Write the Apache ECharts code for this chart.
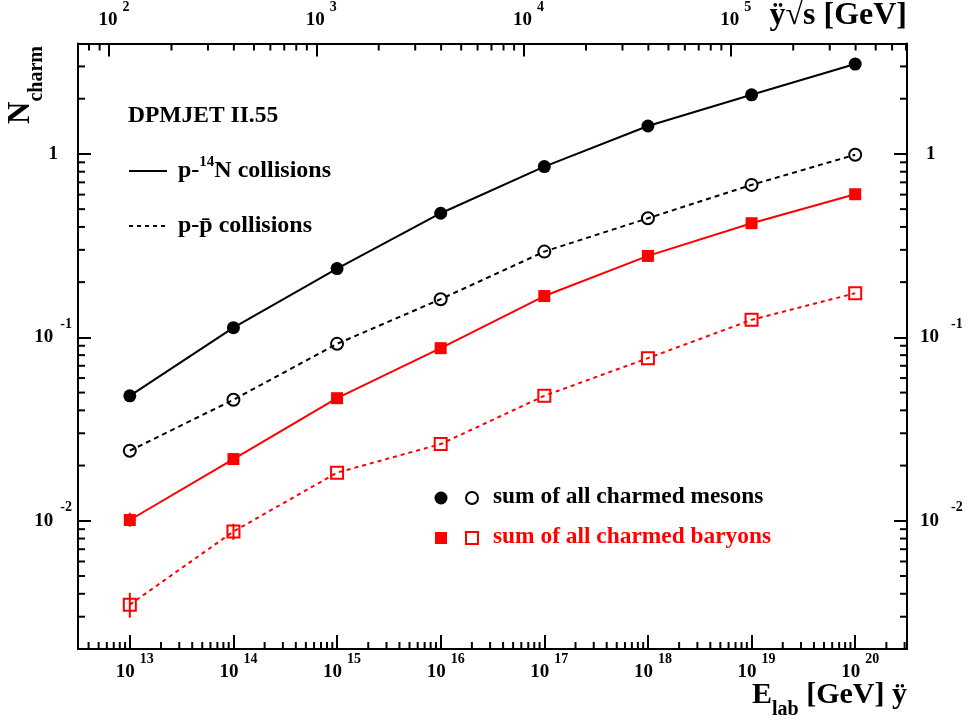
<!DOCTYPE html>
<html><head><meta charset="utf-8">
<script src="https://cdn.jsdelivr.net/npm/echarts@6/dist/echarts.min.js"></script>
<style>html,body{margin:0;padding:0;background:#fff}#c{width:969px;height:724px}</style>
</head><body><div id="c"></div>
<script>
// ---- data ----
const energies = [1e13, 1e14, 1e15, 1e16, 1e17, 1e18, 1e19, 1e20];           // E_lab
const mesonsPN  = [0.048, 0.113, 0.237, 0.475, 0.853, 1.42, 2.10, 3.09];    // p-14N, mesons (filled circles)
const mesonsPP  = [0.0241, 0.0457, 0.0922, 0.1615, 0.2935, 0.446, 0.678, 0.99]; // p-pbar, mesons (open circles)
const baryonsPN = [0.0101, 0.0217, 0.0466, 0.0873, 0.168, 0.278, 0.419, 0.603]; // p-14N, baryons (filled squares)
const baryonsPP = [0.00349, 0.00874, 0.0183, 0.0262, 0.048, 0.077, 0.1246, 0.174]; // p-pbar, baryons (open squares)
const baryonsPNErrLow  = [0.00928, null, null, null, null, null, null, null];
const baryonsPNErrHigh = [0.01106, null, null, null, null, null, null, null];
const baryonsPPErrLow  = [0.00296, 0.00787, null, null, null, null, null, null];
const baryonsPPErrHigh = [0.00405, 0.00963, null, null, null, null, null, null];

const xMin = Math.pow(10, 12.5), xMax = Math.pow(10, 20.5);
const yMin = 0.002, yMax = 4;
const sqrtsShift = 4.40; // log10(sqrt s) = 0.5*log10(E_lab) - shift
const topMin = Math.pow(10, 0.5 * Math.log10(xMin) - sqrtsShift);
const topMax = Math.pow(10, 0.5 * Math.log10(xMax) - sqrtsShift);

const FF = '"Liberation Serif", "Times New Roman", serif';
const RED = '#ff0000';

function isDecade(v){ const e = Math.log10(v); return Math.abs(e - Math.round(e)) < 1e-6; }
function expLabel(v){ if (!isDecade(v)) return ''; const e = Math.round(Math.log10(v)); return '{b|10}{s|' + e + '}'; }
function yLabel(v){ if (!isDecade(v)) return ''; const e = Math.round(Math.log10(v)); if (e === 0) return '{one|1}'; return '{b|10}{s|' + e + '}'; }

function richSet(bPadL, sPadL, onePad){
  return {
    b: {fontFamily: FF, fontWeight: 'bold', fontSize: 19, lineHeight: 19, color: '#000', padding: [10, 0, 10, bPadL]},
    s: {fontFamily: FF, fontWeight: 'bold', fontSize: 14, lineHeight: 14, color: '#000', padding: [0, 0, 26, sPadL]},
    one: {fontFamily: FF, fontWeight: 'bold', fontSize: 19, lineHeight: 19, color: '#000', padding: onePad}
  };
}

const axisLine = {show: true, onZero: false, lineStyle: {color: '#000', width: 2}};

const chart = echarts.init(document.getElementById('c'), null, {renderer: 'canvas'});

function pts(arr){ return energies.map((e, i) => [e, arr[i]]); }
function errs(lo, hi){ const out = []; energies.forEach((e, i) => { if (lo[i] != null) out.push([e, lo[i], hi[i]]); }); return out; }

const option = {
  animation: false,
  backgroundColor: '#fff',
  grid: {left: 78, right: 62, top: 43, bottom: 75},
  xAxis: [
    {type: 'log', logBase: 10, min: xMin, max: xMax, splitNumber: 8, position: 'bottom',
     axisLine: axisLine, splitLine: {show: false},
     axisTick: {show: true, inside: true, length: 14, lineStyle: {color: '#000', width: 2}},
     axisLabel: {formatter: expLabel, margin: 14, rich: richSet(10, 5, [0,0,0,0]), showMinLabel: false, showMaxLabel: false}},
    {type: 'log', logBase: 10, min: topMin, max: topMax, splitNumber: 4, position: 'top',
     axisLine: axisLine, splitLine: {show: false},
     axisTick: {show: true, inside: true, length: 13, lineStyle: {color: '#000', width: 2}},
     axisLabel: {formatter: expLabel, margin: 14, rich: richSet(10, 5, [0,0,0,0]), showMinLabel: false, showMaxLabel: false}}
  ],
  yAxis: [
    {type: 'log', logBase: 10, min: yMin, max: yMax, splitNumber: 3, position: 'left',
     axisLine: axisLine, splitLine: {show: false},
     axisTick: {show: true, inside: true, length: 13, lineStyle: {color: '#000', width: 2}},
     axisLabel: {formatter: yLabel, margin: 6, rich: richSet(0, 7, [0, 14, 0, 0]), showMinLabel: false, showMaxLabel: false}},
    {type: 'log', logBase: 10, min: yMin, max: yMax, splitNumber: 3, position: 'right',
     axisLine: axisLine, splitLine: {show: false},
     axisTick: {show: true, inside: true, length: 13, lineStyle: {color: '#000', width: 2}},
     axisLabel: {formatter: yLabel, margin: 13, rich: richSet(0, 12, [0, 0, 0, 6]), showMinLabel: false, showMaxLabel: false}}
  ],
  series: [
    {type: 'custom', name: 'err', xAxisIndex: 0, yAxisIndex: 0, z: 1,
     data: errs(baryonsPNErrLow, baryonsPNErrHigh).concat(errs(baryonsPPErrLow, baryonsPPErrHigh)),
     renderItem: function(params, api){
       const p1 = api.coord([api.value(0), api.value(1)]);
       const p2 = api.coord([api.value(0), api.value(2)]);
       return {type: 'line', shape: {x1: p1[0], y1: p1[1], x2: p2[0], y2: p2[1]}, style: {stroke: RED, lineWidth: 2}};
     }},
    {type: 'line', name: 'mesons pN', data: pts(mesonsPN), symbol: 'circle', symbolSize: 13,
     lineStyle: {color: '#000', width: 2}, itemStyle: {color: '#000'}, z: 3},
    {type: 'line', name: 'mesons pp', data: pts(mesonsPP), symbol: 'circle', symbolSize: 12,
     lineStyle: {color: '#000', width: 2, type: [5, 4]},
     itemStyle: {color: 'rgba(0,0,0,0)', borderColor: '#000', borderWidth: 2}, z: 3},
    {type: 'line', name: 'baryons pN', data: pts(baryonsPN), symbol: 'rect', symbolSize: 12,
     lineStyle: {color: RED, width: 2}, itemStyle: {color: RED}, z: 3},
    {type: 'line', name: 'baryons pp', data: pts(baryonsPP), symbol: 'rect', symbolSize: 12,
     lineStyle: {color: RED, width: 2, type: [4, 4]},
     itemStyle: {color: 'rgba(0,0,0,0)', borderColor: RED, borderWidth: 2}, z: 3}
  ]
};
chart.setOption(option);

// ---- minor log ticks via the axes' own scales ----
function minorVals(min, max){
  const out = [];
  for (let d = Math.floor(Math.log10(min)); d <= Math.ceil(Math.log10(max)); d++) {
    for (let k = 2; k <= 9; k++) { const v = k * Math.pow(10, d); if (v > min && v < max) out.push(v); }
  }
  return out;
}
const L = chart.convertToPixel({xAxisIndex: 0}, xMin);
const R = chart.convertToPixel({xAxisIndex: 0}, xMax);
const B = chart.convertToPixel({yAxisIndex: 0}, yMin);
const T = chart.convertToPixel({yAxisIndex: 0}, yMax);
const ML = 7;
const tickStyle = {stroke: '#000', lineWidth: 2};
const g = [];
minorVals(xMin, xMax).forEach(v => { const x = chart.convertToPixel({xAxisIndex: 0}, v);
  g.push({type: 'line', shape: {x1: x, y1: B, x2: x, y2: B - ML}, style: tickStyle, silent: true}); });
minorVals(topMin, topMax).forEach(v => { const x = chart.convertToPixel({xAxisIndex: 1}, v);
  g.push({type: 'line', shape: {x1: x, y1: T, x2: x, y2: T + ML}, style: tickStyle, silent: true}); });
minorVals(yMin, yMax).forEach(v => { const y = chart.convertToPixel({yAxisIndex: 0}, v);
  g.push({type: 'line', shape: {x1: L, y1: y, x2: L + ML, y2: y}, style: tickStyle, silent: true});
  g.push({type: 'line', shape: {x1: R, y1: y, x2: R - ML, y2: y}, style: tickStyle, silent: true}); });

// ---- texts / legend ----
const bold = (size, color) => ({fontFamily: FF, fontWeight: 'bold', fontSize: size, fill: color || '#000'});
g.push({type: 'text', x: 128, y: 116, style: Object.assign({text: 'DPMJET II.55', textVerticalAlign: 'middle'}, bold(23.5))});
g.push({type: 'line', shape: {x1: 129, y1: 171, x2: 167, y2: 171}, style: {stroke: '#000', lineWidth: 2}});
g.push({type: 'text', x: 178, y: 171, style: {text: '{t|p-}{s|14}{t|N collisions}', textVerticalAlign: 'middle',
  rich: {t: {fontFamily: FF, fontWeight: 'bold', fontSize: 24, lineHeight: 24, padding: [4, 0, 4, 0], color: '#000'},
         s: {fontFamily: FF, fontWeight: 'bold', fontSize: 15, lineHeight: 15, padding: [0, 0, 17, 0], color: '#000'}}}});
g.push({type: 'line', shape: {x1: 129, y1: 226, x2: 167, y2: 226}, style: {stroke: '#000', lineWidth: 2, lineDash: [4, 4]}});
g.push({type: 'text', x: 178, y: 226, style: Object.assign({text: 'p-p\u0304 collisions', textVerticalAlign: 'middle'}, bold(24))});

g.push({type: 'circle', shape: {cx: 441, cy: 498, r: 6.5}, style: {fill: '#000'}});
g.push({type: 'circle', shape: {cx: 472, cy: 498, r: 6}, style: {fill: 'none', stroke: '#000', lineWidth: 2}});
g.push({type: 'text', x: 493, y: 497, style: Object.assign({text: 'sum of all charmed mesons', textVerticalAlign: 'middle'}, bold(23.4))});
g.push({type: 'rect', shape: {x: 435, y: 532, width: 12, height: 12}, style: {fill: RED}});
g.push({type: 'rect', shape: {x: 466, y: 532, width: 12, height: 12}, style: {fill: 'none', stroke: RED, lineWidth: 2}});
g.push({type: 'text', x: 493, y: 537, style: Object.assign({text: 'sum of all charmed baryons', textVerticalAlign: 'middle'}, bold(23.4, RED))});

// axis titles
g.push({type: 'text', x: 26, y: 85, rotation: Math.PI / 2, style: {text: '{N|N}{c|charm}', textAlign: 'center', textVerticalAlign: 'middle',
  rich: {N: {fontFamily: FF, fontWeight: 'bold', fontSize: 31, lineHeight: 31, padding: [0, 0, 10, 0], color: '#000'},
         c: {fontFamily: FF, fontWeight: 'bold', fontSize: 20, lineHeight: 20, padding: [21, 0, 0, 0], color: '#000'}}}});
g.push({type: 'text', x: 907, y: 685, style: {text: '{E|E}{c|lab}{E| [GeV] \u00ff}', textAlign: 'right', textVerticalAlign: 'top',
  rich: {E: {fontFamily: FF, fontWeight: 'bold', fontSize: 30, lineHeight: 30, padding: [0, 0, 9, 0], color: '#000'},
         c: {fontFamily: FF, fontWeight: 'bold', fontSize: 20, lineHeight: 20, padding: [19, 0, 0, 0], color: '#000'}}}});
g.push({type: 'text', x: 907, y: 16, style: Object.assign({text: '\u00ff\u221as [GeV]', textAlign: 'right', textVerticalAlign: 'middle'}, bold(32))});

chart.setOption({graphic: g});
</script>
</body></html>
